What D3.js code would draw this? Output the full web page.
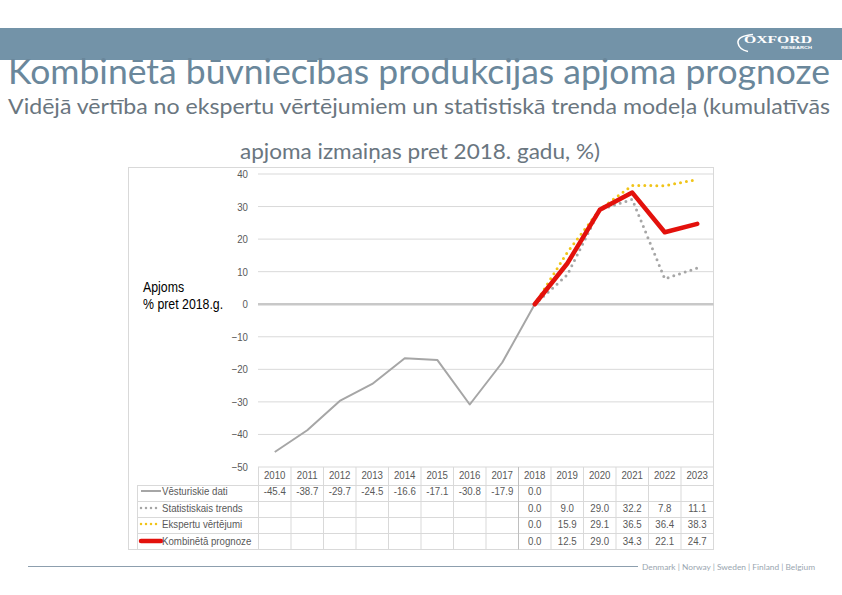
<!DOCTYPE html>
<html><head><meta charset="utf-8">
<script src="https://cdn.jsdelivr.net/npm/d3@7"></script>
<style>
html,body{margin:0;padding:0;background:#fff;}
svg{display:block;}
</style></head>
<body>
<svg id="c" width="842" height="595"></svg>
<script>
const years = ["2010","2011","2012","2013","2014","2015","2016","2017","2018","2019","2020","2021","2022","2023"];
const historical = [-45.4,-38.7,-29.7,-24.5,-16.6,-17.1,-30.8,-17.9,0.0,null,null,null,null,null];
const trend      = [null,null,null,null,null,null,null,null,0.0,9.0,29.0,32.2,7.8,11.1];
const expert     = [null,null,null,null,null,null,null,null,0.0,15.9,29.1,36.5,36.4,38.3];
const combined   = [null,null,null,null,null,null,null,null,0.0,12.5,29.0,34.3,22.1,24.7];
const seriesNames = ["Vēsturiskie dati","Statistiskais trends","Ekspertu vērtējumi","Kombinētā prognoze"];
const yTicks = [40,30,20,10,0,-10,-20,-30,-40,-50];
const titleText = "Kombinētā būvniecības produkcijas apjoma prognoze";
const subtitle1 = "Vidējā vērtība no ekspertu vērtējumiem un statistiskā trenda modeļa (kumulatīvās";
const subtitle2 = "apjoma izmaiņas pret 2018. gadu, %)";
const axisTitle = ["Apjoms","% pret 2018.g."];
const footerText = "Denmark | Norway | Sweden | Finland | Belgium";

const svg = d3.select("#c");
const narrow = "'Liberation Sans',Arial,sans-serif";
const humanist = "Lato,'Open Sans',sans-serif";

// header band
svg.append("rect").attr("x",0).attr("y",28).attr("width",842).attr("height",32).attr("fill","#7393a8");
// logo
const logo = svg.append("g");
logo.append("path").attr("d","M753,34.5 Q737,36 738,43 Q739,49.5 748,51.5").attr("fill","none").attr("stroke","#fff").attr("stroke-width",1.6);
logo.append("text").attr("x",744).attr("y",42.5).attr("font-family","'Liberation Serif','DejaVu Serif',serif").attr("font-weight","bold")
  .attr("font-size",10).attr("fill","#fff").attr("textLength",68).attr("lengthAdjust","spacingAndGlyphs").text("OXFORD");
logo.append("text").attr("x",781).attr("y",49.2).attr("font-family",narrow).attr("font-weight","bold")
  .attr("font-size",4).attr("fill","#fff").attr("textLength",31).attr("lengthAdjust","spacingAndGlyphs").text("RESEARCH");

// title
svg.append("text").attr("x",8).attr("y",84).attr("font-family",humanist).attr("font-size",34)
  .attr("fill","#6a879b").attr("textLength",822).attr("lengthAdjust","spacingAndGlyphs").text(titleText);
svg.append("text").attr("x",8).attr("y",114).attr("font-family",humanist).attr("font-size",20.5)
  .attr("fill","#6a767f").attr("textLength",822).attr("lengthAdjust","spacingAndGlyphs").text(subtitle1);
svg.append("text").attr("x",240).attr("y",159).attr("font-family",humanist).attr("font-size",20.5)
  .attr("fill","#6a767f").attr("textLength",360).attr("lengthAdjust","spacingAndGlyphs").text(subtitle2);

// chart frame
svg.append("rect").attr("x",128.5).attr("y",167.5).attr("width",585).attr("height",382)
  .attr("fill","none").attr("stroke","#d9d9d9").attr("stroke-width",1);

const x = d3.scaleBand().domain(years).range([258.5,713.5]);
const y = d3.scaleLinear().domain([-50,40]).range([467,174]);
const cx = d => x(d) + x.bandwidth()/2;

// grid
svg.append("g").selectAll("line").data(yTicks).join("line")
  .attr("x1",258).attr("x2",713.5).attr("y1",d=>y(d)).attr("y2",d=>y(d))
  .attr("stroke",d=>d===0?"#c8c8c8":"#d9d9d9").attr("stroke-width",d=>d===0?2.5:1);

// y axis
const ya = svg.append("g").attr("transform","translate(248,0)")
  .call(d3.axisLeft(y).tickValues(yTicks).tickSize(0).tickPadding(0));
ya.select(".domain").remove();
ya.selectAll("text").attr("font-family",narrow).attr("font-size",11).attr("fill","#595959").classed("nar",true);

svg.append("g").selectAll("text").data(axisTitle).join("text")
  .attr("x",143).attr("y",(d,i)=>292+i*17).attr("font-family",narrow).attr("font-size",14).attr("fill","#000")
  .classed("nar",true).text(d=>d);

// lines
const mk = arr => years.map((yr,i)=>({yr, v:arr[i]})).filter(d=>d.v!==null);
const line = d3.line().x(d=>cx(d.yr)).y(d=>y(d.v));
const styles = [
  {data:historical, stroke:"#a6a6a6", w:2, dash:null, cap:"butt"},
  {data:trend, stroke:"#a6a6a6", w:3, dash:"0 6", cap:"round"},
  {data:expert, stroke:"#f0c419", w:3, dash:"0 6", cap:"round"},
  {data:combined, stroke:"#e3110c", w:4.5, dash:null, cap:"round"}
];
styles.forEach(s=>{
  svg.append("path").datum(mk(s.data)).attr("d",line).attr("fill","none")
    .attr("stroke",s.stroke).attr("stroke-width",s.w).attr("stroke-dasharray",s.dash)
    .attr("stroke-linecap",s.cap).attr("stroke-linejoin","round");
});

// data table
const rowY = [491,508,524,541];
const tg = svg.append("g");
[485,501,517,533,549].forEach(yy=>{
  tg.append("line").attr("x1",137).attr("x2",713.5).attr("y1",yy+0.5).attr("y2",yy+0.5).attr("stroke","#d9d9d9");
});
const edges = years.map(d=>x(d)).concat([x.range()[1]]);
tg.selectAll("line.v").data(edges).join("line").attr("class","v")
  .attr("x1",d=>d).attr("x2",d=>d).attr("y1",467).attr("y2",549.5)
  .attr("stroke",(d,i)=>i===8?"#bfbfbf":"#d9d9d9");
tg.append("line").attr("x1",137.5).attr("x2",137.5).attr("y1",485).attr("y2",549.5).attr("stroke","#d9d9d9");

tg.selectAll("text.yr").data(years).join("text").attr("class","yr nar")
  .attr("x",d=>cx(d)).attr("y",479).attr("text-anchor","middle")
  .attr("font-family",narrow).attr("font-size",11).attr("fill","#595959").text(d=>d);

const allSeries = [historical,trend,expert,combined];
allSeries.forEach((arr,r)=>{
  tg.append("g").selectAll("text").data(mk(arr)).join("text").classed("nar",true)
    .attr("x",d=>cx(d.yr)).attr("y",rowY[r]+4).attr("text-anchor","middle")
    .attr("font-family",narrow).attr("font-size",11).attr("fill","#595959")
    .text(d=>d.v.toFixed(1));
  const s = styles[r];
  tg.append("line").attr("x1",141).attr("x2",161).attr("y1",rowY[r]).attr("y2",rowY[r])
    .attr("stroke",s.stroke).attr("stroke-width",r===3?4.5:(r===0?2:2.5))
    .attr("stroke-dasharray",s.dash?"0 5":null).attr("stroke-linecap",s.cap);
  tg.append("text").classed("nar",true).attr("x",162).attr("y",rowY[r]+4).attr("font-family",narrow).attr("font-size",11)
    .attr("fill","#595959").text(seriesNames[r]);
});

// condense the Arial-like texts to mimic a narrow face
svg.selectAll("text.nar").each(function(){
  const w = this.getComputedTextLength();
  d3.select(this).attr("textLength", w*0.88).attr("lengthAdjust","spacingAndGlyphs");
});

// footer
svg.append("line").attr("x1",28).attr("x2",638).attr("y1",566.5).attr("y2",566.5).attr("stroke","#8d9fae").attr("stroke-width",1);
svg.append("text").attr("x",642).attr("y",569.5).attr("font-family",humanist).attr("font-size",8)
  .attr("fill","#9aa6b0").attr("textLength",173).attr("lengthAdjust","spacingAndGlyphs").text(footerText);
</script>
</body></html>
